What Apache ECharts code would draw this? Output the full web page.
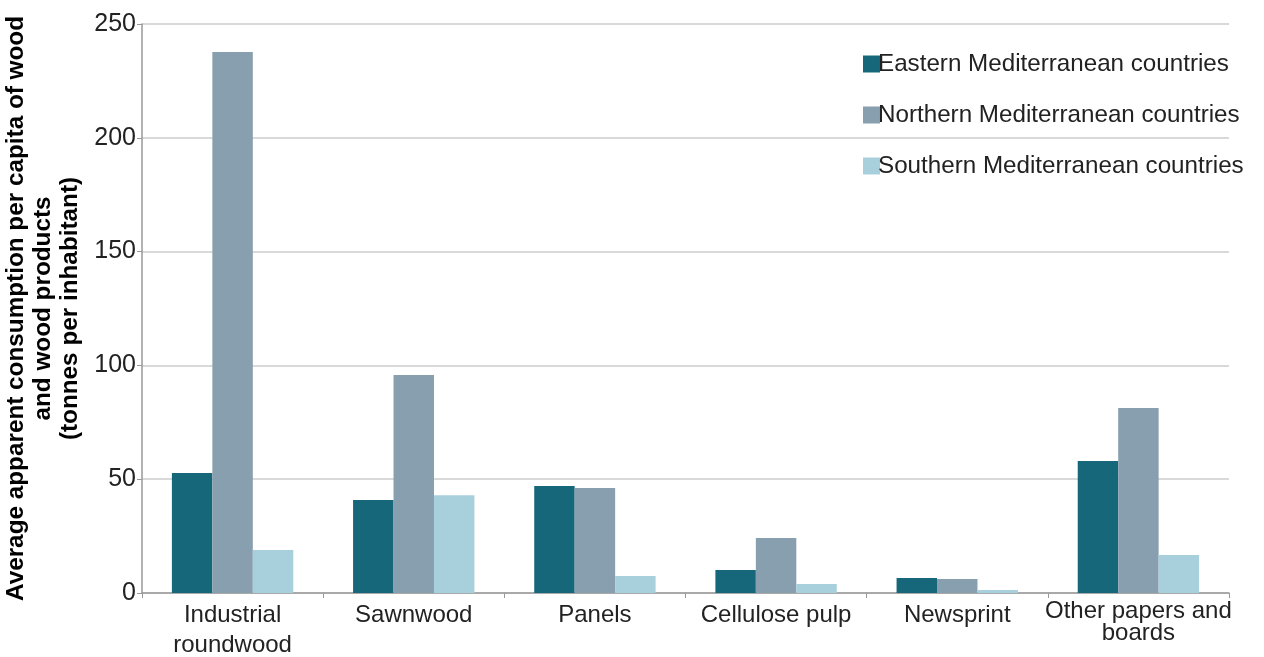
<!DOCTYPE html>
<html><head><meta charset="utf-8">
<script src="https://cdn.jsdelivr.net/npm/echarts@6/dist/echarts.min.js"></script>
<style>html,body{margin:0;padding:0;background:#fff}#c{width:1264px;height:657px}</style>
</head><body><div id="c"></div>
<script>
var categories = ['Industrial\nroundwood', 'Sawnwood', 'Panels', 'Cellulose pulp', 'Newsprint', 'Other papers and\nboards'];
var eastern = [52.7, 40.9, 47.0, 10.1, 6.6, 58.0];
var northern = [237.7, 95.8, 46.1, 24.2, 6.2, 81.3];
var southern = [18.9, 43.0, 7.5, 4.0, 1.3, 16.7];
var seriesNames = ['Eastern Mediterranean countries', 'Northern Mediterranean countries', 'Southern Mediterranean countries'];
var yTicks = [0, 50, 100, 150, 200, 250];

var font = 'Liberation Sans';
var chart = echarts.init(document.getElementById('c'));
chart.setOption({
  animation: false,
  textStyle: {fontFamily: font},
  grid: {left: 142, right: 35, top: 24, bottom: 64, containLabel: false, outerBoundsMode: 'none'},
  legend: {
    orient: 'vertical', left: 858, top: 47, itemGap: 27, itemWidth: 17, itemHeight: 17,
    icon: 'rect', textStyle: {fontSize: 24.2, color: '#222', fontFamily: font, padding: [0, 0, 0, -7]},
    data: seriesNames
  },
  xAxis: {
    type: 'category', data: categories,
    axisLine: {lineStyle: {color: '#999', width: 1.5}},
    axisTick: {show: true, alignWithLabel: false, length: 5, lineStyle: {color: '#999'}},
    axisLabel: {
      color: '#222', fontSize: 24, margin: 7, interval: 0,
      formatter: function (v) {
        var parts = v.split('\n');
        var st = v.indexOf('Other') === 0 ? 'b' : 'a';
        return parts.map(function (p) { return '{' + st + '|' + p + '}'; }).join('\n');
      },
      rich: {
        a: {fontSize: 24, color: '#222', lineHeight: 30, fontFamily: font},
        b: {fontSize: 24, color: '#222', lineHeight: 22, fontFamily: font}
      }
    }
  },
  yAxis: {
    type: 'value', min: 0, max: 250, interval: 50,
    name: 'Average apparent consumption per capita of wood\nand wood products\n(tonnes per inhabitant)',
    nameLocation: 'middle', nameRotate: 90, nameGap: 52,
    nameTextStyle: {fontSize: 24.3, fontWeight: 'bold', color: '#000', lineHeight: 27, fontFamily: font},
    axisLine: {show: true, lineStyle: {color: '#999', width: 1.5}},
    axisTick: {show: true, length: 5, lineStyle: {color: '#999'}},
    axisLabel: {color: '#222', fontSize: 25, margin: 6,
      formatter: function (v) { return yTicks.indexOf(v) >= 0 ? String(v) : ''; }},
    splitLine: {lineStyle: {color: '#ccc', width: 1.5}}
  },
  series: [
    {name: seriesNames[0], type: 'bar', data: eastern, itemStyle: {color: '#17677b'}, barGap: '0%', barCategoryGap: '33%'},
    {name: seriesNames[1], type: 'bar', data: northern, itemStyle: {color: '#879fae'}, barGap: '0%', barCategoryGap: '33%'},
    {name: seriesNames[2], type: 'bar', data: southern, itemStyle: {color: '#a8d0dc'}, barGap: '0%', barCategoryGap: '33%'}
  ]
});
</script></body></html>
